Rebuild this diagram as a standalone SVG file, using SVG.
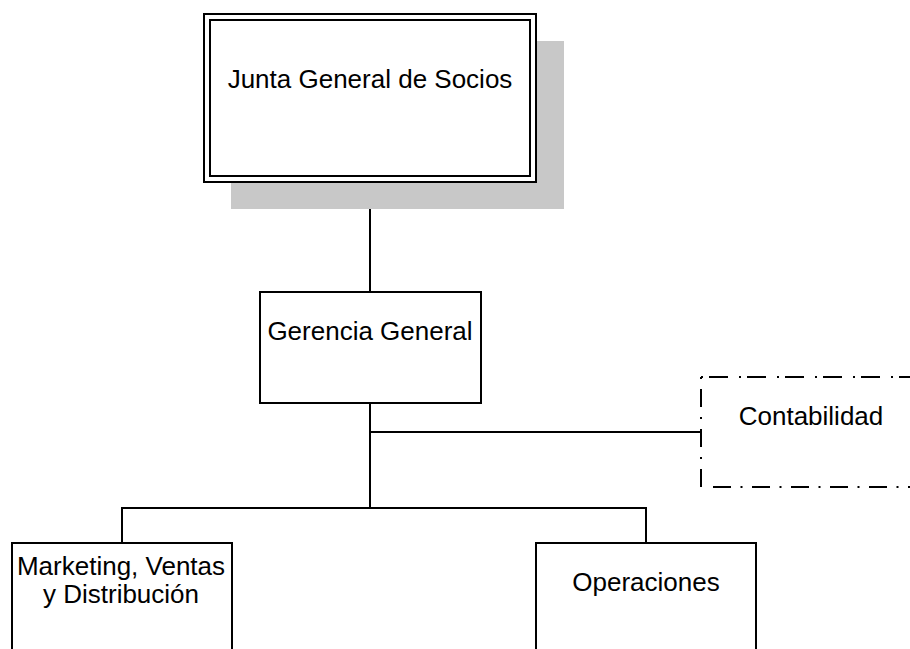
<svg xmlns="http://www.w3.org/2000/svg" width="910" height="649" viewBox="0 0 910 649">
<style>
.box{fill:#fff;stroke:#000;stroke-width:2}
.conn{fill:none;stroke:#000;stroke-width:2}
.lbl{font-family:"Liberation Sans",Arial,sans-serif;font-size:26px;fill:#000;text-anchor:middle}
.dd{fill:none;stroke:#000;stroke-width:2}
</style>
<rect width="910" height="649" fill="#fff"/>
<g id="connectors">
<line class="conn" x1="370" y1="182" x2="370" y2="292"/>
<line class="conn" x1="370" y1="403" x2="370" y2="508"/>
<line class="conn" x1="370" y1="432" x2="701" y2="432"/>
<polyline class="conn" points="122,543 122,508 646,508 646,543"/>
</g>
<g id="junta">
<rect x="231" y="41" width="333" height="168" fill="#c8c8c8"/>
<rect class="box" x="204" y="14" width="332" height="168"/>
<rect class="box" x="210" y="20" width="320" height="156"/>
<text class="lbl" x="370" y="88">Junta General de Socios</text>
</g>
<g id="gerencia">
<rect class="box" x="260" y="292" width="221" height="111"/>
<text class="lbl" x="370" y="340">Gerencia General</text>
</g>
<g id="contabilidad">
<rect x="701" y="377" width="220" height="110" fill="#fff"/>
<line class="dd" x1="701" y1="377" x2="920" y2="377" stroke-dasharray="2 6 19 11"/>
<line class="dd" x1="701" y1="377" x2="701" y2="487" stroke-dasharray="2 10 18 10"/>
<line class="dd" x1="713" y1="487" x2="920" y2="487" stroke-dasharray="18 9.5 2 9.5"/>
<text class="lbl" x="811" y="425">Contabilidad</text>
</g>
<g id="marketing">
<rect class="box" x="12" y="543" width="220" height="120"/>
<text class="lbl" x="121" y="575">Marketing, Ventas</text>
<text class="lbl" x="121" y="603">y Distribución</text>
</g>
<g id="operaciones">
<rect class="box" x="536" y="543" width="220" height="120"/>
<text class="lbl" x="646" y="591">Operaciones</text>
</g>
</svg>
